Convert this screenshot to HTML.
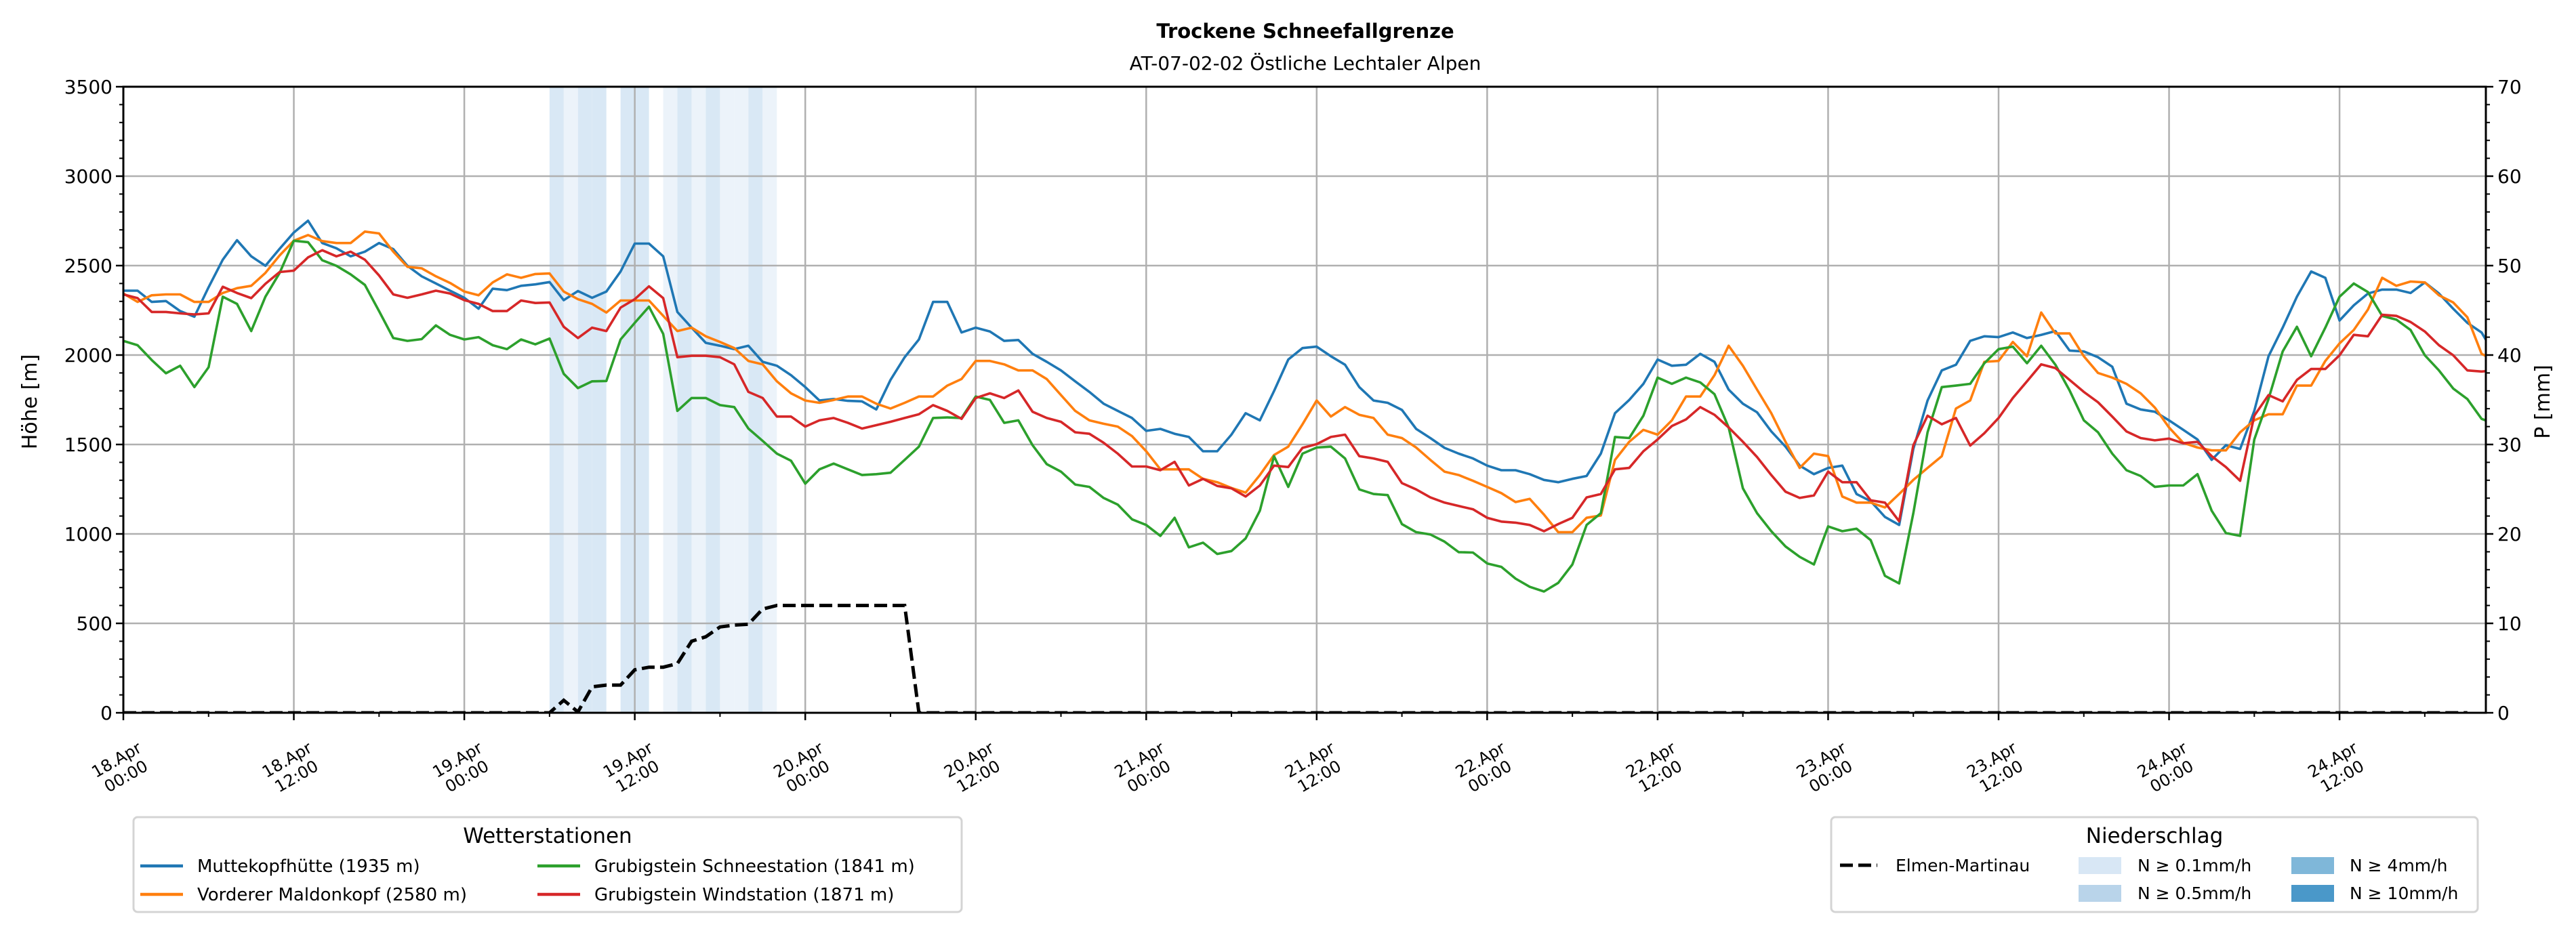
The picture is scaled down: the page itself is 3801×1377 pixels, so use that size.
<!DOCTYPE html>
<html><head><meta charset="utf-8"><style>
html,body{margin:0;padding:0;background:#fff;}
svg{display:block;font-family:"DejaVu Sans","Liberation Sans",sans-serif;}
</style></head><body>
<svg id="chart" width="3801" height="1377" viewBox="0 0 3801 1377" xmlns="http://www.w3.org/2000/svg">
<defs><clipPath id="plotclip"><rect x="182" y="128" width="3486" height="924"/></clipPath></defs>
<rect width="3801" height="1377" fill="#fff"/>
<text x="1926" y="56" text-anchor="middle" font-size="29" font-weight="bold">Trockene Schneefallgrenze</text>
<text x="1926" y="103" text-anchor="middle" font-size="28">AT-07-02-02 Östliche Lechtaler Alpen</text>
<g id="bands"></g>
<g id="grid"></g>
<g id="series" clip-path="url(#plotclip)"></g>
<g id="axes"></g>
<text transform="translate(54,593) rotate(-90)" text-anchor="middle" font-size="30">Höhe [m]</text>
<text transform="translate(3762,593) rotate(-90)" text-anchor="middle" font-size="30">P [mm]</text>

<g>
<rect x="197" y="1206" width="1222" height="140" rx="6" fill="#fff" stroke="#d4d4d4" stroke-width="3"/>
<text x="808" y="1244" text-anchor="middle" font-size="31">Wetterstationen</text>
<g><line x1="207" y1="1278" x2="270" y2="1278" stroke="#1f77b4" stroke-width="4.5"/><text x="291" y="1287" font-size="26">Muttekopfhütte (1935 m)</text></g>
<g><line x1="207" y1="1320" x2="270" y2="1320" stroke="#ff7f0e" stroke-width="4.5"/><text x="291" y="1329" font-size="26">Vorderer Maldonkopf (2580 m)</text></g>
<g><line x1="793" y1="1278" x2="856" y2="1278" stroke="#2ca02c" stroke-width="4.5"/><text x="877" y="1287" font-size="26">Grubigstein Schneestation (1841 m)</text></g>
<g><line x1="793" y1="1320" x2="856" y2="1320" stroke="#d62728" stroke-width="4.5"/><text x="877" y="1329" font-size="26">Grubigstein Windstation (1871 m)</text></g>
</g>

<g>
<rect x="2702" y="1206" width="954" height="140" rx="6" fill="#fff" stroke="#d4d4d4" stroke-width="3"/>
<text x="3179" y="1244" text-anchor="middle" font-size="31">Niederschlag</text>
<g><line x1="2715" y1="1277" x2="2770" y2="1277" stroke="#000" stroke-width="5" stroke-dasharray="19,8"/><text x="2797" y="1286" font-size="25">Elmen-Martinau</text></g>
<g><rect x="3067" y="1265" width="63" height="25" fill="#d8e7f5"/><text x="3154" y="1286" font-size="25">N ≥ 0.1mm/h</text></g>
<g><rect x="3067" y="1306" width="63" height="25" fill="#b9d4ea"/><text x="3154" y="1327" font-size="25">N ≥ 0.5mm/h</text></g>
<g><rect x="3381" y="1265" width="63" height="25" fill="#7fb7d9"/><text x="3467" y="1286" font-size="25">N ≥ 4mm/h</text></g>
<g><rect x="3381" y="1306" width="63" height="25" fill="#4a98c9"/><text x="3467" y="1327" font-size="25">N ≥ 10mm/h</text></g>
</g>
</svg>
<script>
const tickLabels = ["18.Apr|00:00","18.Apr|12:00","19.Apr|00:00","19.Apr|12:00","20.Apr|00:00","20.Apr|12:00","21.Apr|00:00","21.Apr|12:00","22.Apr|00:00","22.Apr|12:00","23.Apr|00:00","23.Apr|12:00","24.Apr|00:00","24.Apr|12:00"];
const yTicks = [0,500,1000,1500,2000,2500,3000,3500];
const y2Ticks = [0,10,20,30,40,50,60,70];
const muttekopf = [2360,2360,2297,2302,2246,2214,2379,2533,2642,2552,2499,2594,2685,2751,2626,2597,2552,2578,2626,2592,2499,2440,2400,2360,2320,2259,2371,2363,2387,2395,2408,2307,2358,2320,2355,2467,2623,2623,2552,2241,2153,2068,2052,2033,2052,1962,1940,1887,1821,1746,1754,1744,1741,1696,1861,1988,2087,2297,2297,2126,2153,2132,2079,2084,2007,1962,1914,1853,1794,1728,1688,1648,1576,1587,1560,1542,1462,1462,1555,1675,1635,1799,1975,2039,2047,1993,1946,1821,1746,1733,1693,1587,1536,1481,1449,1422,1382,1356,1356,1334,1302,1289,1308,1324,1449,1675,1749,1839,1975,1940,1946,2007,1962,1807,1728,1680,1573,1488,1382,1334,1369,1382,1223,1183,1095,1050,1475,1746,1914,1946,2079,2105,2100,2126,2095,2113,2134,2025,2020,1988,1935,1728,1696,1683,1635,1582,1528,1414,1496,1475,1688,1993,2153,2326,2467,2432,2193,2278,2344,2366,2366,2347,2406,2344,2259,2180,2126,1990];
const maldonkopf = [2344,2297,2334,2339,2339,2297,2297,2347,2374,2387,2459,2557,2639,2671,2637,2626,2626,2690,2680,2578,2493,2485,2440,2403,2355,2334,2406,2451,2432,2453,2456,2355,2312,2286,2238,2305,2305,2305,2219,2134,2153,2105,2073,2039,1967,1948,1853,1786,1746,1733,1749,1768,1768,1728,1701,1733,1768,1768,1829,1866,1967,1967,1948,1914,1914,1866,1776,1688,1635,1616,1600,1547,1462,1361,1361,1361,1308,1289,1257,1231,1329,1441,1488,1613,1746,1656,1709,1666,1648,1555,1536,1483,1414,1348,1329,1297,1263,1228,1178,1196,1108,1010,1010,1090,1103,1414,1515,1582,1555,1635,1768,1768,1887,2052,1940,1807,1675,1515,1369,1449,1435,1209,1175,1175,1148,1223,1302,1369,1435,1701,1746,1962,1967,2073,1993,2238,2121,2121,1993,1900,1874,1839,1786,1706,1595,1509,1483,1467,1467,1568,1635,1669,1669,1829,1829,1967,2065,2140,2254,2432,2387,2411,2406,2334,2294,2211,2007,1967];
const schneestation = [2079,2055,1972,1898,1940,1821,1932,2326,2286,2134,2326,2459,2639,2631,2530,2499,2451,2392,2246,2095,2079,2089,2166,2113,2087,2100,2055,2033,2087,2060,2092,1895,1815,1853,1855,2087,2180,2270,2118,1688,1760,1760,1720,1709,1589,1520,1449,1409,1281,1361,1393,1361,1329,1334,1342,1414,1488,1648,1651,1648,1768,1749,1621,1635,1496,1390,1348,1276,1263,1201,1164,1082,1050,989,1090,925,951,888,904,975,1130,1435,1263,1449,1483,1488,1422,1249,1223,1217,1055,1010,997,957,898,896,835,816,750,704,678,726,829,1050,1116,1542,1536,1661,1874,1839,1874,1847,1781,1595,1255,1116,1015,930,872,829,1042,1015,1029,965,766,723,1116,1568,1821,1829,1839,1954,2033,2047,1954,2052,1946,1802,1635,1568,1449,1356,1324,1263,1271,1271,1334,1130,1005,989,1528,1754,2020,2158,1993,2153,2326,2400,2352,2219,2198,2140,1999,1914,1813,1754,1643,1613];
const windstation = [2339,2318,2241,2241,2233,2227,2233,2382,2347,2318,2398,2464,2472,2546,2586,2552,2578,2533,2445,2339,2320,2339,2360,2344,2307,2286,2246,2246,2305,2291,2294,2158,2095,2153,2134,2265,2312,2384,2318,1988,1996,1996,1988,1948,1794,1760,1656,1656,1600,1635,1648,1621,1589,1608,1627,1648,1669,1720,1688,1643,1760,1786,1760,1802,1683,1648,1627,1568,1560,1510,1449,1377,1377,1356,1403,1271,1308,1268,1255,1209,1271,1382,1374,1481,1502,1542,1555,1435,1422,1403,1284,1249,1204,1175,1156,1138,1090,1069,1063,1050,1015,1055,1090,1204,1223,1361,1369,1462,1528,1603,1640,1709,1666,1595,1515,1430,1329,1236,1201,1215,1348,1289,1289,1188,1175,1071,1496,1661,1613,1648,1494,1563,1648,1760,1853,1948,1927,1861,1794,1736,1656,1573,1536,1523,1533,1507,1515,1435,1374,1297,1661,1776,1741,1861,1922,1922,1999,2113,2105,2225,2219,2185,2132,2055,1999,1914,1908,1914];
const elmenPrecip = [0,0,0,0,0,0,0,0,0,0,0,0,0,0,0,0,0,0,0,0,0,0,0,0,0,0,0,0,0,0,0,1.4,0.1,2.9,3.1,3.1,4.8,5.1,5.1,5.5,8.0,8.5,9.6,9.8,9.9,11.6,12,12,12,12,12,12,12,12,12,12,0,0,0,0,0,0,0,0,0,0,0,0,0,0,0,0,0,0,0,0,0,0,0,0,0,0,0,0,0,0,0,0,0,0,0,0,0,0,0,0,0,0,0,0,0,0,0,0,0,0,0,0,0,0,0,0,0,0,0,0,0,0,0,0,0,0,0,0,0,0,0,0,0,0,0,0,0,0,0,0,0,0,0,0,0,0,0,0,0,0,0,0,0,0,0,0,0,0,0,0,0,0,0,0,0,0,0,0,0,0];
const bandHours = [30,31,32,33,35,36,38,39,40,41,42,43,44,45];
const bandLevels = [2,1,2,2,2,2,1,2,1,2,1,1,2,1];

const NS='http://www.w3.org/2000/svg';
const L=182,R=3668,T=128,B=1052,HMAX=166.3;
const x=h=>L+h*(R-L)/HMAX;
const yL=v=>B-v/3500*(B-T);
const yR=p=>B-p/70*(B-T);
function mk(tag,attrs,parent){const e=document.createElementNS(NS,tag);for(const k in attrs)e.setAttribute(k,attrs[k]);parent.appendChild(e);return e;}
const svg=document.getElementById('chart');
const gb=document.getElementById('bands'),gg=document.getElementById('grid'),gs=document.getElementById('series'),ga=document.getElementById('axes');
const bandColors={1:'#ecf3fa',2:'#d9e8f5'};
bandHours.forEach((h,i)=>{
  const r=mk('rect',{x:x(h),y:T,width:x(h+1)-x(h),height:B-T,fill:bandColors[bandLevels[i]]},gb);
  
  
});
yTicks.forEach(v=>{const l=mk('line',{x1:L,x2:R,y1:yL(v),y2:yL(v),stroke:'#b0b0b0','stroke-width':2.5},gg);
  
  });
tickLabels.forEach((t,i)=>{const l=mk('line',{x1:x(i*12),x2:x(i*12),y1:T,y2:B,stroke:'#b0b0b0','stroke-width':2.5},gg);
  
  });
function line(arr,sc,color,name,extra){
  const pts=arr.map((v,i)=>x(i).toFixed(1)+','+sc(v).toFixed(1)).join(' ');
  const p=mk('polyline',Object.assign({points:pts,fill:'none',stroke:color,'stroke-width':3.6,'stroke-linejoin':'round'},extra||{}),gs);
  
  
}
line(muttekopf,yL,'#1f77b4','line-muttekopf');
line(maldonkopf,yL,'#ff7f0e','line-maldonkopf');
line(schneestation,yL,'#2ca02c','line-schneestation');
line(windstation,yL,'#d62728','line-windstation');
line(elmenPrecip,yR,'#000','line-elmen-martinau',{'stroke-width':5,'stroke-dasharray':'19,8','stroke-linejoin':'miter'});
const fr=mk('rect',{x:L,y:T,width:R-L,height:B-T,fill:'none',stroke:'#000','stroke-width':3},ga);


for(let v=0;v<=3500;v+=100){const maj=v%500===0;mk('line',{x1:L,x2:L-(maj?11:6),y1:yL(v),y2:yL(v),stroke:'#000','stroke-width':maj?2.5:2},ga);}
for(let p=0;p<=70;p+=2){const maj=p%10===0;mk('line',{x1:R,x2:R+(maj?11:6),y1:yR(p),y2:yR(p),stroke:'#000','stroke-width':maj?2.5:2},ga);}
for(let h=0;h<=HMAX;h+=6){const maj=h%12===0;mk('line',{x1:x(h),x2:x(h),y1:B,y2:B+(maj?11:6),stroke:'#000','stroke-width':maj?2.5:2},ga);}
yTicks.forEach(v=>{const t=mk('text',{x:L-16,y:yL(v)+10,'text-anchor':'end','font-size':28},ga);t.textContent=v;
  
  });
y2Ticks.forEach(p=>{const t=mk('text',{x:R+17,y:yR(p)+10,'text-anchor':'start','font-size':28},ga);t.textContent=p;
  
  });
tickLabels.forEach((lab,i)=>{
  const cx=x(i*12)-4,cy=1132;
  const t=mk('text',{transform:`translate(${cx},${cy}) rotate(-30)`,'text-anchor':'middle','font-size':24},ga);
  
  
  const [a,b]=lab.split('|');
  const s1=mk('tspan',{x:0,y:-4},t);s1.textContent=a;
  const s2=mk('tspan',{x:0,y:24},t);s2.textContent=b;
});
</script>
</body></html>
